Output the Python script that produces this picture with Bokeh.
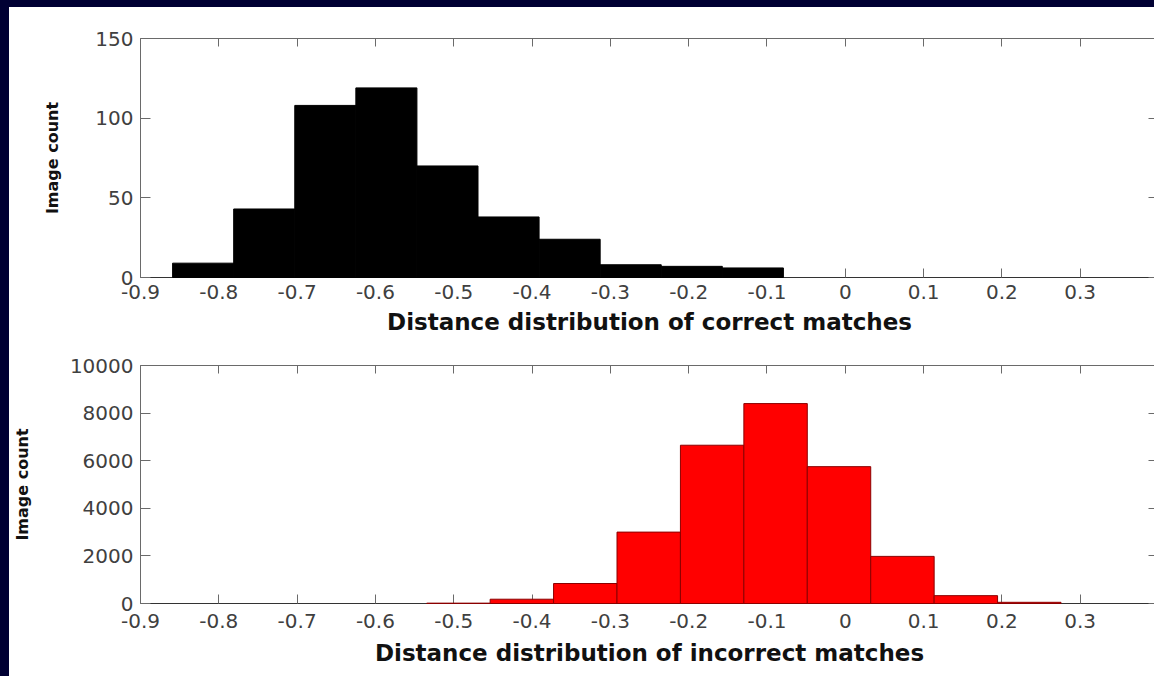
from bokeh.plotting import figure
from bokeh.layouts import column
from bokeh.models import (LinearAxis, FixedTicker, CustomJSTickFormatter, Range1d,
                          GlobalInlineStyleSheet)
from bokeh.embed import file_html
from bokeh.resources import INLINE

# ---- data ----
correct_bin_centers = [-0.820, -0.742, -0.664, -0.586, -0.508, -0.430, -0.352, -0.274, -0.196, -0.118]
correct_counts = [9, 43, 108, 119, 70, 38, 24, 8, 7, 6]

incorrect_bin_centers = [-0.494, -0.413, -0.332, -0.251, -0.170, -0.089, -0.008, 0.073, 0.154, 0.235]
incorrect_counts = [15, 180, 840, 3000, 6650, 8400, 5750, 1980, 330, 50]

x_ticks = [-0.9, -0.8, -0.7, -0.6, -0.5, -0.4, -0.3, -0.2, -0.1, 0.0, 0.1, 0.2, 0.3]
correct_y_ticks = [0, 50, 100, 150]
incorrect_y_ticks = [0, 2000, 4000, 6000, 8000, 10000]

x_label_correct = "Distance distribution of correct matches"
x_label_incorrect = "Distance distribution of incorrect matches"
y_label = "Image count"

NAVY = "#000033"
AXIS_COLOR = "#6a6a6a"
TICK_TEXT = "#404040"
TICK_FONT = "DejaVu Sans"
LABEL_FONT = "DejaVu Sans"

fmt = CustomJSTickFormatter(code="return (Math.round(tick*10)/10).toString();")


def make_panel(centers, counts, y_end, y_ticks, xlabel, fill, edge, height,
               border_top, border_bottom, xlab_standoff, xaxlab_standoff, yaxlab_standoff):
    p = figure(width=1149, height=height,
               x_range=Range1d(-0.9, 0.4), y_range=Range1d(0, y_end),
               output_backend="svg", toolbar_location=None,
               min_border_left=131, min_border_right=0,
               min_border_top=border_top, min_border_bottom=border_bottom,
               background_fill_color="white", border_fill_color="white",
               outline_line_color=None)
    p.xgrid.visible = False
    p.ygrid.visible = False

    w = centers[1] - centers[0]
    r = p.vbar(x=centers, top=counts, width=w, bottom=0,
               fill_color=fill, line_color=edge, line_width=1)
    r.level = "overlay"

    # bottom axis
    xa = p.xaxis[0]
    xa.ticker = FixedTicker(ticks=x_ticks)
    xa.formatter = fmt
    xa.axis_label = xlabel
    xa.axis_label_text_font = LABEL_FONT
    xa.axis_label_text_font_style = "bold"
    xa.axis_label_text_font_size = "23px"
    xa.axis_label_text_color = "#111111"
    xa.axis_label_standoff = xaxlab_standoff
    xa.major_label_text_font = TICK_FONT
    xa.major_label_text_font_size = "20px"
    xa.major_label_text_color = TICK_TEXT
    xa.major_label_standoff = xlab_standoff
    xa.major_tick_in = 9
    xa.major_tick_out = 0
    xa.minor_tick_line_color = None
    xa.axis_line_color = "#333333"
    xa.major_tick_line_color = AXIS_COLOR

    # left axis
    ya = p.yaxis[0]
    ya.ticker = FixedTicker(ticks=y_ticks)
    ya.axis_label = y_label
    ya.axis_label_text_font = LABEL_FONT
    ya.axis_label_text_font_style = "bold"
    ya.axis_label_text_font_size = "16px"
    ya.axis_label_text_color = "#111111"
    ya.axis_label_standoff = yaxlab_standoff
    ya.major_label_text_font = TICK_FONT
    ya.major_label_text_font_size = "20px"
    ya.major_label_text_color = TICK_TEXT
    ya.major_label_standoff = 7
    ya.major_tick_in = 10
    ya.major_tick_out = 0
    ya.minor_tick_line_color = None
    ya.axis_line_color = AXIS_COLOR
    ya.major_tick_line_color = AXIS_COLOR

    # top axis (ticks only, no labels drawn)
    ta = LinearAxis(ticker=FixedTicker(ticks=x_ticks), major_label_text_font_size="1px",
                    major_label_text_color=None,
                    major_label_standoff=0, major_tick_in=8, major_tick_out=0,
                    minor_tick_line_color=None, axis_line_color=AXIS_COLOR,
                    major_tick_line_color=AXIS_COLOR)
    p.add_layout(ta, "above")

    # right axis (ticks only; its line lies just beyond the visible window)
    ra = LinearAxis(ticker=FixedTicker(ticks=y_ticks), major_label_text_font_size="1px",
                    major_label_text_color=None,
                    major_label_standoff=0, major_tick_in=10, major_tick_out=0,
                    minor_tick_line_color=None, axis_line_color=AXIS_COLOR,
                    major_tick_line_color=AXIS_COLOR)
    p.add_layout(ra, "right")
    return p


p1 = make_panel(correct_bin_centers, correct_counts, 150, correct_y_ticks, x_label_correct,
                "#000000", "#000000", height=331, border_top=31, border_bottom=61,
                xlab_standoff=7, xaxlab_standoff=7, yaxlab_standoff=30)
p2 = make_panel(incorrect_bin_centers, incorrect_counts, 10000, incorrect_y_ticks, x_label_incorrect,
                "#ff0000", "#8b0000", height=338, border_top=27, border_bottom=73,
                xlab_standoff=10, xaxlab_standoff=9, yaxlab_standoff=35)

layout = column(p1, p2, spacing=0)
layout.styles = {"background-color": "white"}
layout.stylesheets = [GlobalInlineStyleSheet(css=(
    f"html {{ background: {NAVY} !important; overflow: hidden !important; }} "
    "body { padding: 7px 0 0 9px !important; overflow: hidden !important; }"
))]

open("out.html", "w").write(file_html(layout, INLINE))
